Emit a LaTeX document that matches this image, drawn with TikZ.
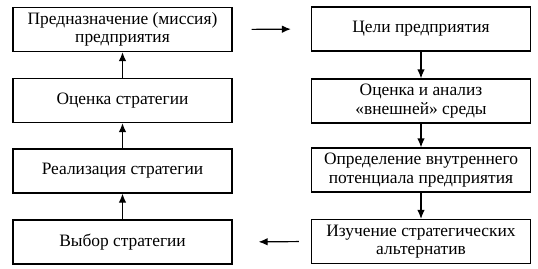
\documentclass[tikz,border=0pt]{standalone}
\usepackage{fontspec}
\setmainfont{Liberation Serif}
\usetikzlibrary{arrows.meta}
\begin{document}
\begin{tikzpicture}[x=1pt,y=-1pt,
  blk/.style={draw,line width=1.2pt,minimum width=219pt,minimum height=44pt,
    inner sep=1pt,align=center,font=\fontsize{17.4}{18.5}\selectfont},
  arr/.style={line width=1.2pt,-{Latex[length=9pt,width=7.5pt]}}]
\useasboundingbox (0,0) rectangle (538,268);
\node[blk] (mis) at (122.5,29.5) {Предназначение (миссия)\\предприятия};
\node[blk] (ots) at (122.5,100.5) {Оценка стратегии};
\node[blk] (rea) at (122.5,171) {Реализация стратегии};
\node[blk] (vyb) at (122.5,242) {Выбор стратегии};
\node[blk] (cel) at (421,29) {Цели предприятия};
\node[blk] (ana) at (421,101) {Оценка и анализ\\«внешней» среды};
\node[blk] (opr) at (421,170) {Определение внутреннего\\потенциала предприятия};
\node[blk] (izu) at (421,241.5) {Изучение стратегических\\альтернатив};
\draw[arr] (ots) -- (mis);
\draw[arr] (rea) -- (ots);
\draw[arr] (vyb) -- (rea);
\draw[arr] (cel) -- (ana);
\draw[arr] (ana) -- (opr);
\draw[arr] (opr) -- (izu);
\draw[arr,shorten <=19pt,shorten >=20pt] (mis.east) -- (cel.west);
\draw[arr,shorten <=12pt,shorten >=26pt] (izu.west) -- (vyb.east);
\end{tikzpicture}
\end{document}
